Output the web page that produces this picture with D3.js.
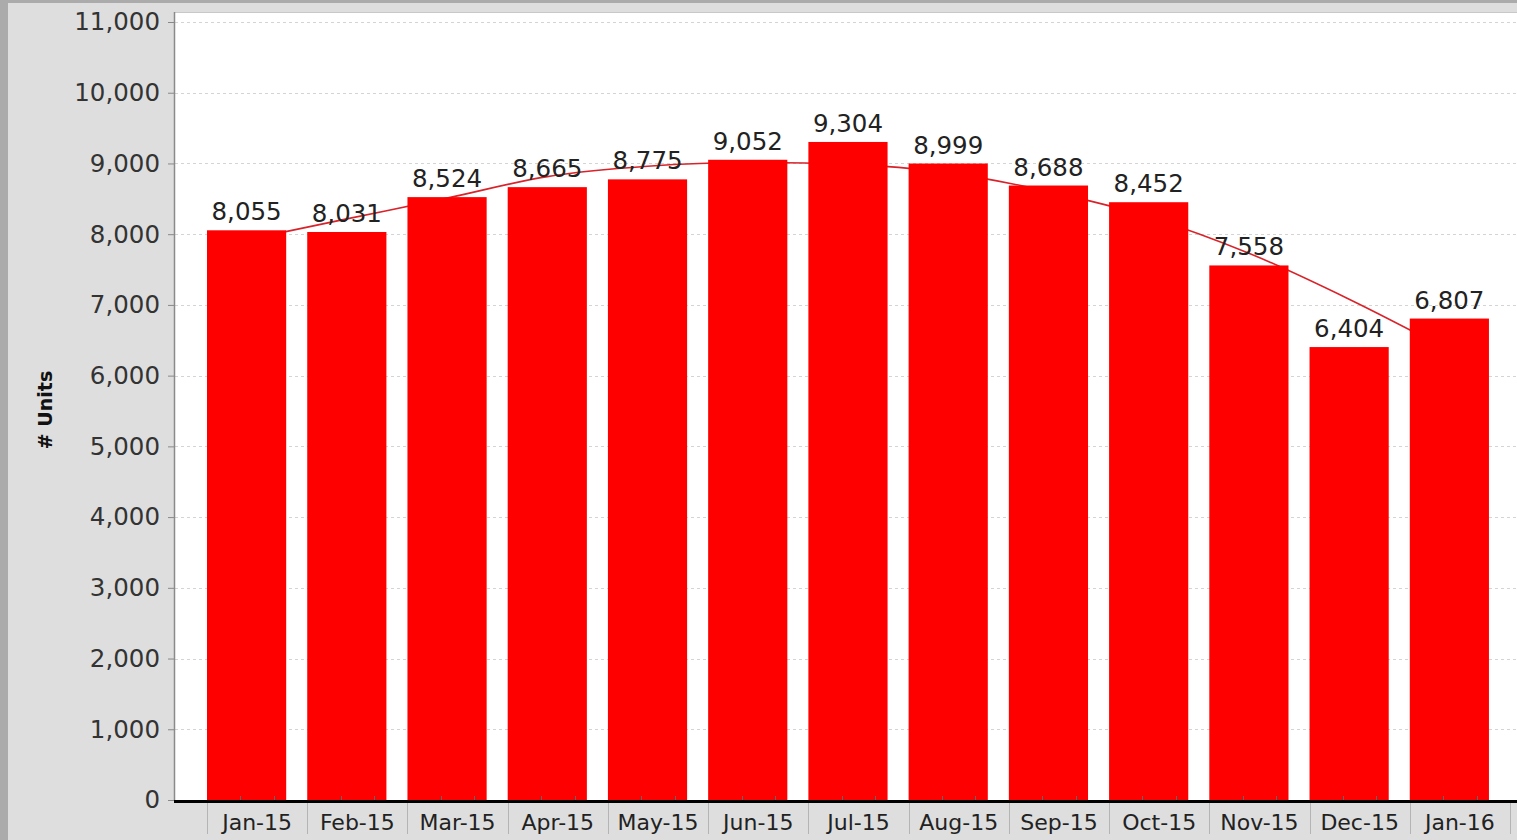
<!DOCTYPE html>
<html>
<head>
<meta charset="utf-8">
<script src="https://cdn.jsdelivr.net/npm/d3@7/dist/d3.min.js"></script>
<style>
  html, body { margin: 0; padding: 0; background: #dedede; overflow: hidden; }
  svg { display: block; }
</style>
</head>
<body>
<svg id="chart" width="1517" height="840"></svg>
<script>
// Monthly unit counts
const months = ["Jan-15","Feb-15","Mar-15","Apr-15","May-15","Jun-15","Jul-15",
                "Aug-15","Sep-15","Oct-15","Nov-15","Dec-15","Jan-16"];
const units = [8055, 8031, 8524, 8665, 8775, 9052, 9304, 8999, 8688, 8452, 7558, 6404, 6807];
// Trend line through the months
const trend = [7920, 8216, 8510, 8814, 8960, 9013, 8987, 8867, 8605, 8244, 7731, 7080, 6355];
const yTicks = [0,1000,2000,3000,4000,5000,6000,7000,8000,9000,10000,11000];

const W = 1517, H = 840;
const plot = { left: 174, right: 1517, top: 12, bottom: 801 };

const svg = d3.select("#chart");

// frame
svg.append("rect").attr("x", 0).attr("y", 0).attr("width", W).attr("height", H).attr("fill", "#dedede");
svg.append("rect").attr("x", 0).attr("y", 0).attr("width", W).attr("height", 3).attr("fill", "#ababab");
svg.append("rect").attr("x", 0).attr("y", 0).attr("width", 8).attr("height", H).attr("fill", "#ababab");

// plot background
svg.append("rect")
  .attr("x", plot.left).attr("y", plot.top)
  .attr("width", plot.right - plot.left).attr("height", plot.bottom - plot.top)
  .attr("fill", "#ffffff");
svg.append("line")
  .attr("x1", plot.left).attr("x2", plot.right)
  .attr("y1", plot.top + 0.5).attr("y2", plot.top + 0.5)
  .attr("stroke", "#c8c8c8");

const y = d3.scaleLinear().domain([0, 11000]).range([800, 22]);
const x = d3.scaleBand().domain(months).range([207, 1510]).padding(0);
const barW = x.bandwidth() * 0.79;

// grid
svg.append("g").selectAll("line").data(yTicks.filter(d => d > 0)).join("line")
  .attr("x1", plot.left + 1).attr("x2", plot.right)
  .attr("y1", d => Math.round(y(d)) + 0.5).attr("y2", d => Math.round(y(d)) + 0.5)
  .attr("stroke", "#d4d4d4").attr("stroke-width", 1).attr("stroke-dasharray", "3,3");

// trend line (drawn beneath the bars)
const line = d3.line()
  .x((d, i) => x(months[i]) + barW / 2)
  .y(d => y(d))
  .curve(d3.curveMonotoneX);
svg.append("path").datum(trend)
  .attr("d", line)
  .attr("fill", "none")
  .attr("stroke", "#d8232a")
  .attr("stroke-width", 1.6);

// bars
svg.append("g").selectAll("rect").data(units).join("rect")
  .attr("x", (d, i) => x(months[i]))
  .attr("y", d => y(d))
  .attr("width", barW)
  .attr("height", d => y(0) - y(d))
  .attr("fill", "#ff0000");

// value labels
svg.append("g").selectAll("text").data(units).join("text")
  .attr("x", (d, i) => x(months[i]) + barW / 2)
  .attr("y", d => y(d) - 10)
  .attr("text-anchor", "middle")
  .attr("font-family", "DejaVu Sans")
  .attr("font-size", 24.5)
  .attr("fill", "#222")
  .text(d => d3.format(",")(d));

// y axis
const yAxis = d3.axisLeft(y).tickValues(yTicks).tickFormat(d3.format(",")).tickSize(6).tickPadding(8);
const gy = svg.append("g").attr("transform", `translate(${plot.left},0)`).call(yAxis);
gy.select(".domain").remove();
gy.selectAll(".tick line").attr("stroke", "#888");
gy.selectAll(".tick text")
  .attr("font-family", "DejaVu Sans").attr("font-size", 24.5).attr("fill", "#333");
svg.append("line")
  .attr("x1", plot.left + 0.5).attr("x2", plot.left + 0.5)
  .attr("y1", plot.top).attr("y2", plot.bottom)
  .attr("stroke", "#8a8a8a").attr("stroke-width", 1.5);

// x axis
svg.append("line")
  .attr("x1", plot.left).attr("x2", plot.right)
  .attr("y1", 801.5).attr("y2", 801.5)
  .attr("stroke", "#000").attr("stroke-width", 3);

// category boundary ticks
const bounds = months.map(m => x(m)).concat([x(months[months.length - 1]) + x.step()]);
svg.append("g").selectAll("line").data(bounds).join("line")
  .attr("x1", d => Math.round(d) + 0.5).attr("x2", d => Math.round(d) + 0.5)
  .attr("y1", 803).attr("y2", 834)
  .attr("stroke", "#b4b4b4").attr("stroke-width", 1);

// minor ticks on the axis
const minor = [];
months.forEach(m => { minor.push(x(m) + x.step() / 3); minor.push(x(m) + 2 * x.step() / 3); });
svg.append("g").selectAll("line").data(minor).join("line")
  .attr("x1", d => Math.round(d) + 0.5).attr("x2", d => Math.round(d) + 0.5)
  .attr("y1", 796).attr("y2", 800)
  .attr("stroke", "#666").attr("stroke-width", 1);

svg.append("g").selectAll("text").data(months).join("text")
  .attr("x", d => x(d) + x.step() / 2)
  .attr("y", 830)
  .attr("text-anchor", "middle")
  .attr("font-family", "DejaVu Sans")
  .attr("font-size", 22)
  .attr("fill", "#222")
  .text(d => d);

// y axis title
svg.append("text")
  .attr("transform", "translate(52,410) rotate(-90)")
  .attr("text-anchor", "middle")
  .attr("font-family", "DejaVu Sans")
  .attr("font-weight", "bold")
  .attr("font-size", 19)
  .attr("fill", "#111")
  .text("# Units");
</script>
</body>
</html>
